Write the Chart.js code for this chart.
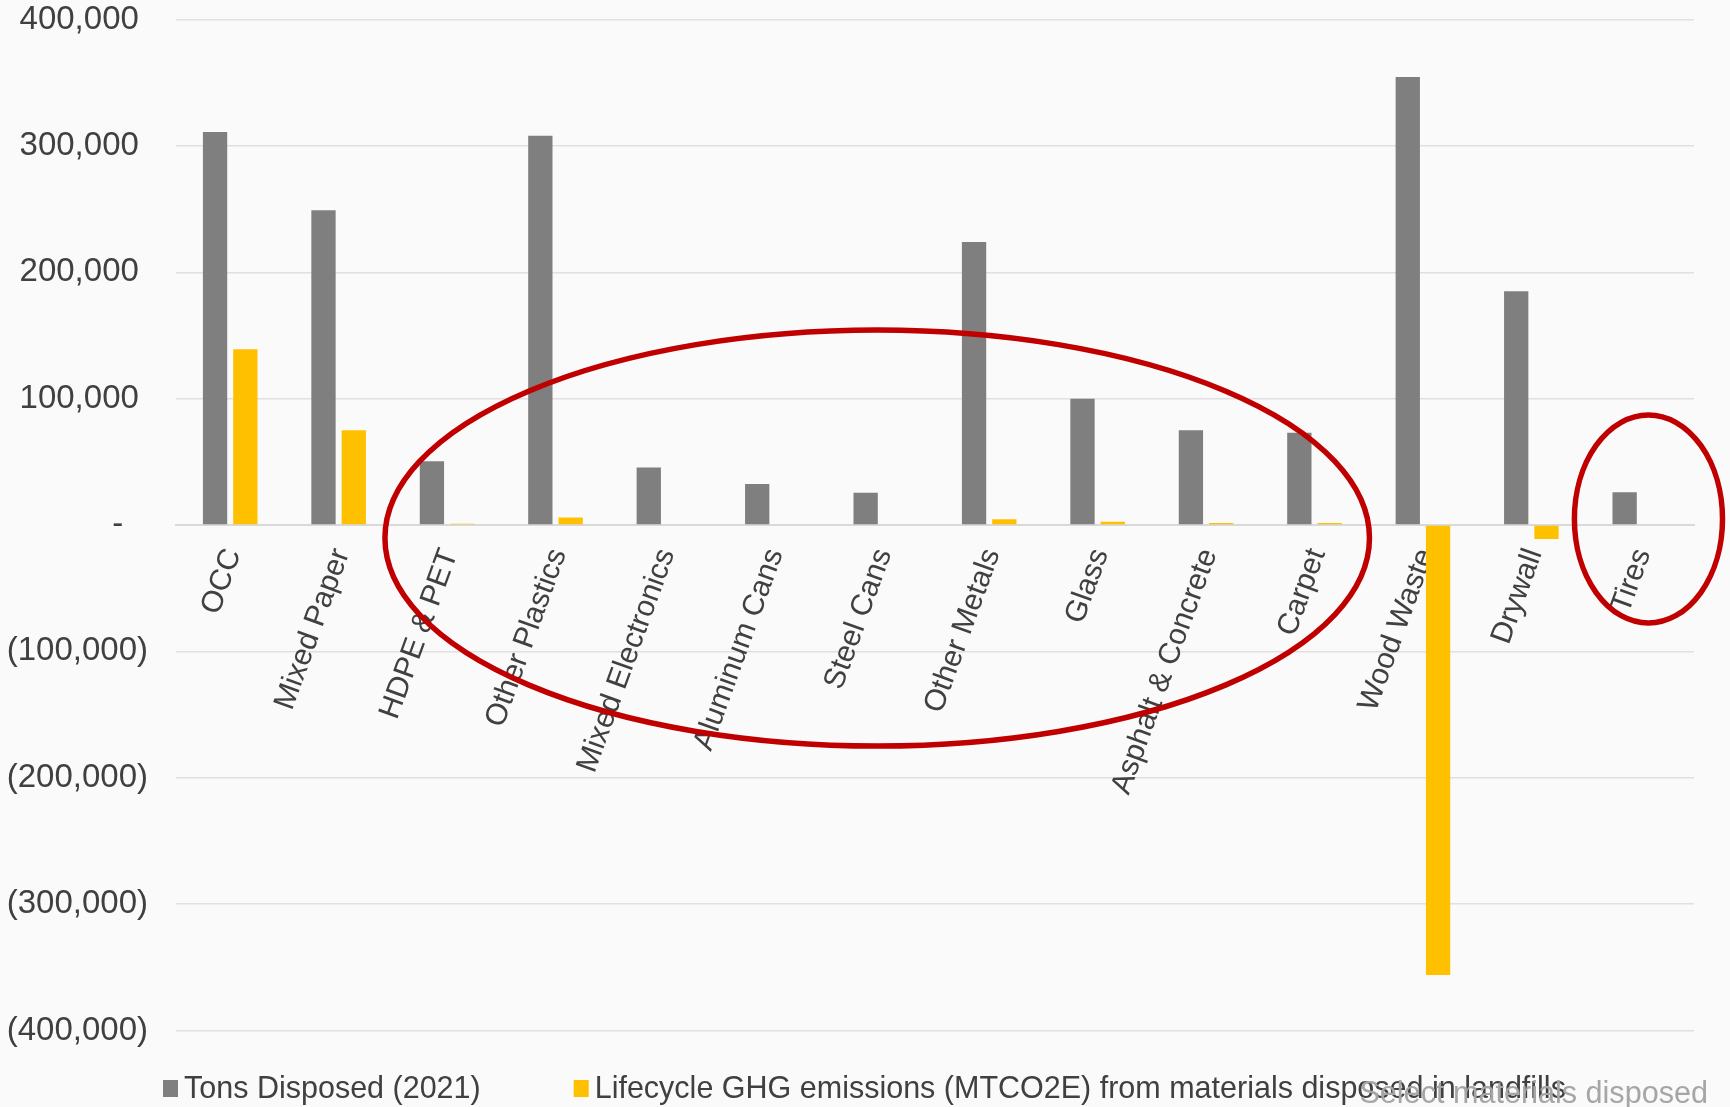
<!DOCTYPE html>
<html>
<head>
<meta charset="utf-8">
<script src="https://cdn.jsdelivr.net/npm/chart.js@4.4.0/dist/chart.umd.min.js"></script>
<style>
  html, body { margin: 0; padding: 0; background: #fafafa; }
  #wrap { width: 1730px; height: 1107px; position: relative; }
</style>
</head>
<body>
<div id="wrap"><canvas id="ghgChart"></canvas></div>
<script>
// Landfilled materials: tons disposed vs lifecycle GHG emissions
const materials = ['OCC', 'Mixed Paper', 'HDPE & PET', 'Other Plastics', 'Mixed Electronics',
  'Aluminum Cans', 'Steel Cans', 'Other Metals', 'Glass', 'Asphalt & Concrete', 'Carpet',
  'Wood Waste', 'Drywall', 'Tires'];
const tonsDisposed = [311000, 249000, 50500, 308000, 45500, 32500, 25500, 224000, 100000, 75000, 73000, 354500, 185000, 26000];
const ghgEmissions = [139000, 75000, 1000, 6000, 0, 0, 0, 4500, 2500, 1500, 1500, -356000, -11000, 0];
const yTicks = [-400000, -300000, -200000, -100000, 0, 100000, 200000, 300000, 400000];
const seriesNames = ['Tons Disposed (2021)', 'Lifecycle GHG emissions (MTCO2E) from materials disposed in landfills'];
const caption = 'Select materials disposed';

const FONT = "'Liberation Sans', Arial, sans-serif";
const GRAY = '#7f7f7f';
const GOLD = '#ffc000';

// red call-out rings, in category index / axis value units
const highlights = [
  { cx: 5.967, cy: -10300, rx: 4.54, ry: 164600 },
  { cx: 13.08, cy: 4750, rx: 0.683, ry: 82300 }
];

// accounting style: 100,000 / (100,000) / -
function fmtTick(v) {
  if (v === 0) return '-\u2002\u2005';
  const s = Math.abs(v).toLocaleString('en-US');
  return v < 0 ? '(' + s + ')' : s + ' ';
}

function noPadding(axis) {
  axis.paddingTop = 0;
  axis.paddingBottom = 0;
  axis.paddingLeft = 0;
  axis.paddingRight = 0;
}

const overlays = {
  id: 'overlays',
  afterDatasetsDraw(chart) {
    const { ctx, scales: { x, y } } = chart;
    const unit = (x.right - x.left) / materials.length;
    ctx.save();
    ctx.strokeStyle = '#c00000';
    ctx.lineWidth = 5.5;
    highlights.forEach(h => {
      const px = x.getPixelForValue(h.cx);
      const py = y.getPixelForValue(h.cy);
      const ry = Math.abs(y.getPixelForValue(h.cy + h.ry) - py);
      ctx.beginPath();
      ctx.ellipse(px, py, h.rx * unit, ry, 0, 0, Math.PI * 2);
      ctx.stroke();
    });
    ctx.restore();
  },
  afterDraw(chart) {
    const { ctx } = chart;
    ctx.save();
    ctx.font = '30.5px ' + FONT;
    ctx.textBaseline = 'alphabetic';
    // legend row
    const colors = [GRAY, GOLD];
    let lx = 163;
    seriesNames.forEach((name, i) => {
      ctx.fillStyle = colors[i];
      ctx.fillRect(lx, 1080, 15, 17);
      ctx.fillStyle = '#404040';
      ctx.textAlign = 'left';
      ctx.fillText(name, lx + 21, 1098);
      lx += 21 + ctx.measureText(name).width + 93;
    });
    // caption sitting under the right end of the legend
    ctx.font = '30.6px ' + FONT;
    ctx.fillStyle = '#a6a6a6';
    ctx.textAlign = 'right';
    ctx.fillText(caption, 1708, 1103);
    ctx.restore();
  }
};

new Chart(document.getElementById('ghgChart'), {
  type: 'bar',
  data: {
    labels: materials,
    datasets: [{
      label: seriesNames[0],
      data: tonsDisposed,
      backgroundColor: GRAY,
      categoryPercentage: 0.559,
      barPercentage: 0.802
    }, {
      label: seriesNames[1],
      data: ghgEmissions,
      backgroundColor: GOLD,
      categoryPercentage: 0.559,
      barPercentage: 0.802
    }]
  },
  options: {
    responsive: true,
    maintainAspectRatio: false,
    animation: false,
    layout: { padding: { top: 19.5, right: 36, bottom: 76.5, left: 0 } },
    plugins: {
      legend: { display: false },
      tooltip: { enabled: false }
    },
    scales: {
      x: {
        position: { y: 0 },
        offset: true,
        afterFit: noPadding,
        grid: { display: false, drawTicks: false },
        border: { display: true, color: '#d9d9d9', width: 2 },
        ticks: {
          autoSkip: false,
          minRotation: 70,
          maxRotation: 70,
          padding: 19,
          labelOffset: 3,
          color: '#404040',
          font: { family: FONT, size: 30 }
        }
      },
      y: {
        min: -400000,
        max: 400000,
        afterBuildTicks: axis => { axis.ticks = yTicks.map(v => ({ value: v })); },
        afterFit: axis => { noPadding(axis); axis.width = 176; },
        grid: { color: '#e0e0e0', lineWidth: 1.5, drawTicks: false },
        border: { display: false },
        ticks: {
          padding: 28,
          color: '#404040',
          font: { family: FONT, size: 33 },
          callback: v => fmtTick(v)
        }
      }
    }
  },
  plugins: [overlays]
});
</script>
</body>
</html>
